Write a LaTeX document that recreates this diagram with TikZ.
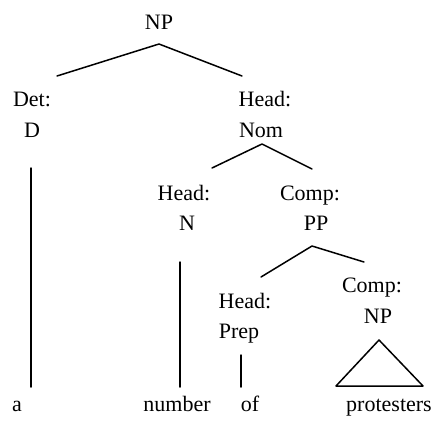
\documentclass[tikz,border=0pt]{standalone}
\usepackage{fontspec}
\setmainfont{Liberation Serif}
\usetikzlibrary{calc}
\begin{document}
\begin{tikzpicture}[line join=round, line cap=round, x=1pt, y=-1pt]
 \tikzset{lab/.style={anchor=base, inner sep=0pt, font=\fontsize{22}{22}\selectfont},
   branch/.style={line width=1.5pt}}
 \useasboundingbox (0,0) rectangle (435,421);
 % labels
 \node[lab] (np) at (159,29) {NP};
 \node[lab] (detfn) at (32,106) {Det:};
 \node[lab] (detcat) at (32,137) {D};
 \node[lab] (nomfn) at (265,106) {Head:};
 \node[lab] (nomcat) at (261,137) {Nom};
 \node[lab] (nfn) at (184,200) {Head:};
 \node[lab] (ncat) at (187,230) {N};
 \node[lab] (ppfn) at (310,200) {Comp:};
 \node[lab] (ppcat) at (316,230) {PP};
 \node[lab] (prepfn) at (245,308) {Head:};
 \node[lab] (prepcat) at (239,338) {Prep};
 \node[lab] (objfn) at (372,292) {Comp:};
 \node[lab] (objcat) at (378,323) {NP};
 % words
 \node[lab] (a) at (17,411) {a};
 \node[lab] (number) at (177,411) {number};
 \node[lab] (of) at (250,411) {of};
 \node[lab] (protesters) at (389,411) {protesters};
 % branches
 \draw[branch] ($(detfn.base)+(25,-30)$) -- ($(np.base)+(0,15)$) -- ($(nomfn.base)+(-23,-30)$);
 \draw[branch] ($(nfn.base)+(28,-32)$) -- ($(nomcat.base)+(1,7)$) -- ($(ppfn.base)+(2,-31)$);
 \draw[branch] ($(prepfn.base)+(16,-31)$) -- ($(ppcat.base)+(-4,16)$) -- ($(objfn.base)+(-8,-30)$);
 \draw[branch] ($(detcat.base)+(-1,31)$) -- ($(a.base)+(14,-24)$);
 \draw[branch] ($(ncat.base)+(-7,32)$) -- ($(number.base)+(3,-24)$);
 \draw[branch] ($(prepcat.base)+(2,17)$) -- ($(of.base)+(-9,-24)$);
 \draw[branch] ($(objcat.base)+(1,17)$) -- ($(protesters.base)+(-53,-25)$)
   -- ($(protesters.base)+(34,-25)$) -- cycle;
\end{tikzpicture}
\end{document}
